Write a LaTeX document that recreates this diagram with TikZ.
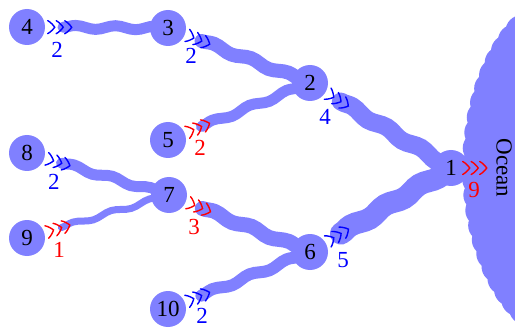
\documentclass[tikz,border=0pt]{standalone}
\usepackage{fontspec}
\setmainfont{Liberation Serif}
\usetikzlibrary{decorations.pathmorphing,decorations.markings,calc}
\definecolor{rivercol}{RGB}{128,128,255}
\tikzset{
  big/.style={font=\fontsize{23}{27}\selectfont},
  stn/.style={circle, fill=rivercol, minimum size=36pt, inner sep=0pt, big},
  lab/.style={inner sep=0pt, big},
  river/.style={draw=rivercol, line cap=round, decorate,
    decoration={snake, segment length=40pt, amplitude=1.9pt}},
  chevs/.style 2 args={postaction={decorate}, decoration={markings,
    mark=at position #2 with {\draw[#1, line width=1.4pt, line cap=round]
      foreach \k in {-8.5,0,8.5} {(\k-7,6.5) .. controls (\k-4,5) and (\k-1,1.5) .. (\k,0)
        .. controls (\k-1,-1.5) and (\k-4,-5) .. (\k-7,-6.5)};}}}
}
\begin{document}
\begin{tikzpicture}[x=1pt,y=-1pt]
\useasboundingbox (0,0) rectangle (515,329);
% ocean
\begin{scope}
\clip (0,0) rectangle (515,329);
\fill[rivercol] (575,168) ellipse [x radius=97, y radius=164];
\foreach \t in {0,5.5,...,355}
  \fill[rivercol] ({575+97*cos(\t)},{168+164*sin(\t)}) circle [radius=16];
\end{scope}
% station positions
\coordinate (c4) at (27,27);
\coordinate (c3) at (168,28);
\coordinate (c2) at (310,83);
\coordinate (c5) at (168,140);
\coordinate (c8) at (27,153);
\coordinate (c9) at (27,238);
\coordinate (c7) at (169,195);
\coordinate (c10) at (168,309);
\coordinate (c6) at (310,252);
\coordinate (c1) at (451,168);
% rivers
\draw[river, line width=11pt] ($(c4)!36pt!(c3)$) -- (c3);
\draw[river, line width=14pt] ($(c3)!36pt!(c2)$) -- (c2);
\draw[river, line width=11pt] ($(c5)!36pt!(c2)$) -- (c2);
\draw[river, line width=18pt] ($(c2)!36pt!(c1)$) -- (c1);
\draw[river, line width=11pt] ($(c8)!36pt!(c7)$) -- (c7);
\draw[river, line width=7pt]  ($(c9)!36pt!(c7)$) -- (c7);
\draw[river, line width=15pt] ($(c7)!36pt!(c6)$) -- (c6);
\draw[river, line width=12pt] ($(c10)!36pt!(c6)$) -- (c6);
\draw[river, line width=22pt] ($(c6)!36pt!(c1)$) -- (c1);
% nodes
\node[stn] (n4) at (c4) {4};
\node[stn] (n3) at (c3) {3};
\node[stn] (n2) at (c2) {2};
\node[stn] (n5) at (c5) {5};
\node[stn] (n8) at (c8) {8};
\node[stn] (n9) at (c9) {9};
\node[stn] (n7) at (c7) {7};
\node[stn] (n10) at (c10) {10};
\node[stn] (n6) at (c6) {6};
\node[stn] (n1) at (c1) {1};
\node[lab, rotate=-90] (ocean) at (504,168) {Ocean};
% chevrons
\path[chevs={blue}{18pt}] (n4) -- (n3);
\path[chevs={blue}{18pt}] (n3) -- (n2);
\path[chevs={red}{18pt}] (n5) -- (n2);
\path[chevs={blue}{18pt}] (n2) -- (n1);
\path[chevs={blue}{18pt}] (n8) -- (n7);
\path[chevs={red}{18pt}] (n9) -- (n7);
\path[chevs={red}{18pt}] (n7) -- (n6);
\path[chevs={blue}{18pt}] (n10) -- (n6);
\path[chevs={blue}{18pt}] (n6) -- (n1);
\path[chevs={red}{9pt}] (n1) -- (ocean);
% labels
\node[lab, text=blue] (l43) at (57,50) {2};
\node[lab, text=blue] (l32) at (191,56) {2};
\node[lab, text=blue] (l21) at (325,117) {4};
\node[lab, text=red] (l52) at (200,148) {2};
\node[lab, text=blue] (l87) at (54,182) {2};
\node[lab, text=red] (l97) at (59,250) {1};
\node[lab, text=red] (l76) at (194,227) {3};
\node[lab, text=blue] (l106) at (202,316) {2};
\node[lab, text=blue] (l61) at (343,260) {5};
\node[lab, text=red] (l1o) at (474,190) {9};
\end{tikzpicture}
\end{document}
